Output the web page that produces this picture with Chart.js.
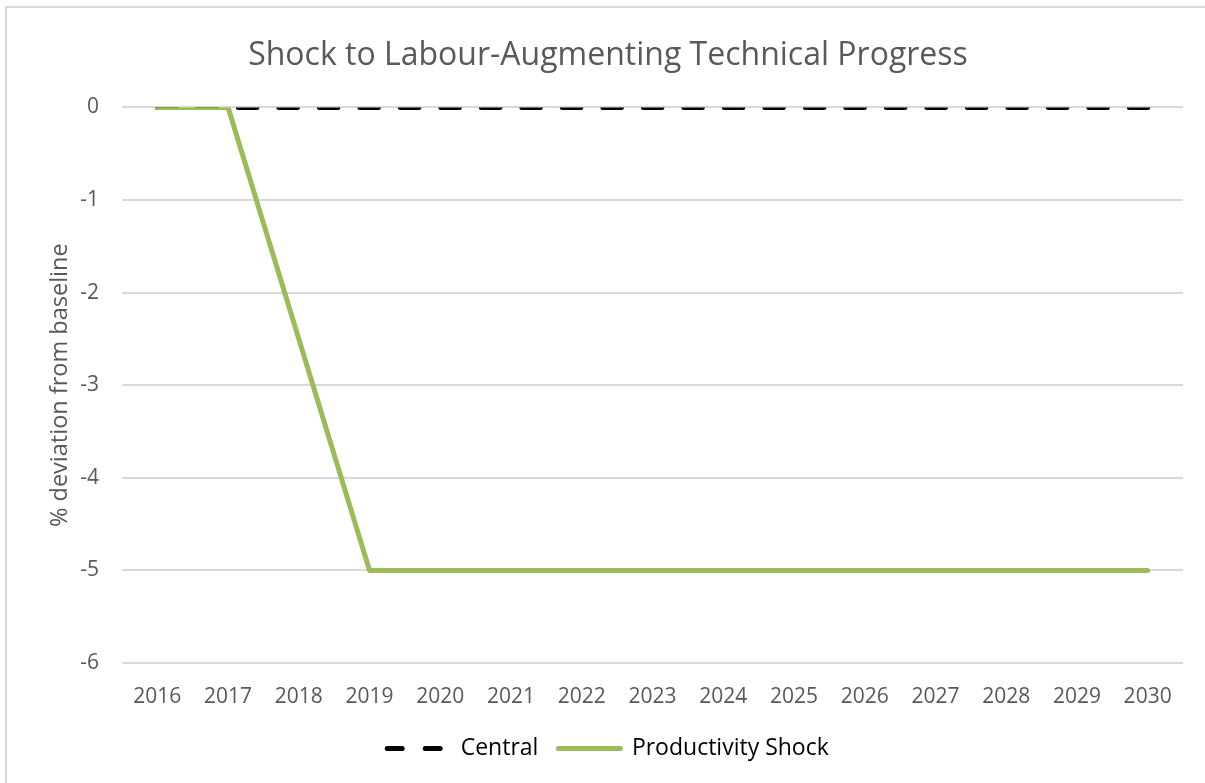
<!DOCTYPE html>
<html><head><meta charset="utf-8">
<script src="https://cdn.jsdelivr.net/npm/chart.js@4"></script>
<style>html,body{margin:0;padding:0;background:#fff;overflow:hidden;}</style>
</head><body>
<canvas id="c" width="1205" height="783" style="display:block;width:1205px;height:783px"></canvas>
<script>
const chartTitle = 'Shock to Labour-Augmenting Technical Progress';
const yAxisTitle = '% deviation from baseline';
const years = ['2016','2017','2018','2019','2020','2021','2022','2023','2024','2025','2026','2027','2028','2029','2030'];
const centralValues = [0,0,0,0,0,0,0,0,0,0,0,0,0,0,0];
const productivityShockValues = [0,0,-2.5,-5,-5,-5,-5,-5,-5,-5,-5,-5,-5,-5,-5];
const seriesNames = ['Central','Productivity Shock'];

const textColor = '#595959';
const fontFamily = '"Open Sans", "DejaVu Sans", sans-serif';

const frame = {
  id: 'frame',
  beforeDraw(chart) {
    const ctx = chart.ctx;
    ctx.save();
    ctx.fillStyle = '#fff';
    ctx.fillRect(0, 0, chart.width, chart.height);
    ctx.strokeStyle = '#d9d9d9';
    ctx.lineWidth = 2;
    ctx.beginPath();
    ctx.moveTo(6, chart.height);
    ctx.lineTo(6, 7);
    ctx.lineTo(chart.width, 7);
    ctx.stroke();
    ctx.restore();
  }
};

new Chart(document.getElementById('c'), {
  type: 'line',
  data: {
    labels: years,
    datasets: [
      { label: seriesNames[0], data: centralValues, borderColor: '#000000', backgroundColor: '#000000',
        borderWidth: 5, borderDash: [18.5, 22], borderCapStyle: 'round', pointRadius: 0, tension: 0, order: 2 },
      { label: seriesNames[1], data: productivityShockValues, borderColor: '#9BBB59', backgroundColor: '#9BBB59',
        borderWidth: 5, borderCapStyle: 'round', borderJoinStyle: 'round', pointRadius: 0, tension: 0, order: 1 }
    ]
  },
  options: {
    responsive: false,
    animation: false,
    layout: { padding: { left: 33, right: 22, top: 0, bottom: 13 } },
    plugins: {
      title: { display: true, text: chartTitle, color: textColor,
        font: { family: fontFamily, size: 32, weight: 'normal' }, padding: { top: 37, bottom: 32 } },
      legend: {
        position: 'bottom',
        labels: {
          color: textColor,
          font: { family: fontFamily, size: 23 },
          usePointStyle: true,
          pointStyleWidth: 62,
          padding: 20,
          generateLabels(chart) {
            return chart.data.datasets.map((ds, i) => ({
              text: ds.label,
              fillStyle: ds.borderColor,
              strokeStyle: ds.borderColor,
              lineWidth: ds.borderWidth,
              lineDash: i === 0 ? [15, 23] : [],
              lineCap: 'round',
              pointStyle: 'line',
              hidden: false,
              datasetIndex: i
            }));
          }
        }
      },
      tooltip: { enabled: false }
    },
    scales: {
      x: {
        offset: true,
        grid: { display: false, drawTicks: false },
        border: { display: false },
        ticks: { color: textColor, font: { family: fontFamily, size: 21 }, padding: 21, maxRotation: 0 },
        afterFit(s) { s.height = 54; }
      },
      y: {
        min: -6, max: 0,
        grid: { color: '#d9d9d9', lineWidth: 2, drawTicks: false },
        border: { display: false },
        ticks: { stepSize: 1, color: textColor, font: { family: fontFamily, size: 21 }, padding: 23 },
        title: { display: true, text: yAxisTitle, color: textColor,
          font: { family: fontFamily, size: 23.5 }, padding: { top: 13, bottom: 0 } },
        afterFit(s) { s.width = 89; }
      }
    }
  },
  plugins: [frame]
});
</script>
</body></html>
